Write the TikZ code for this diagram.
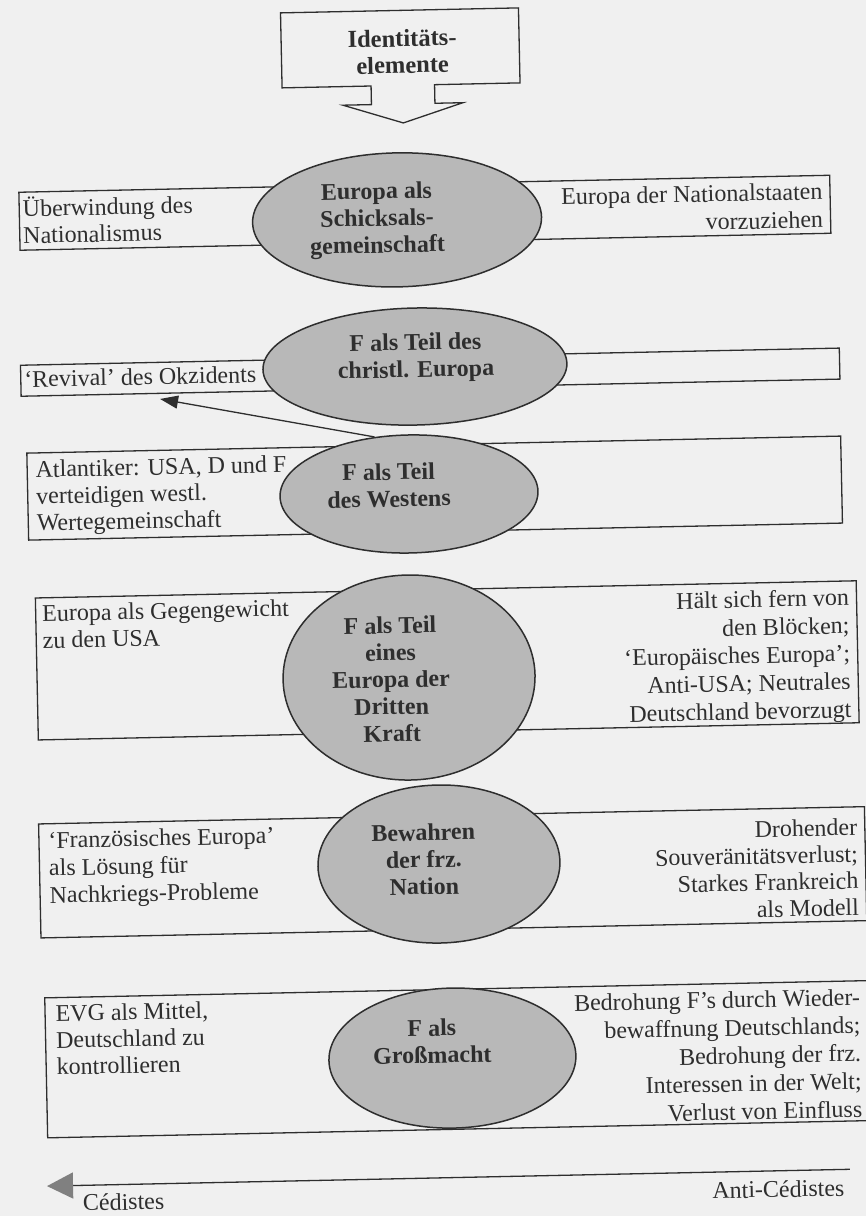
\documentclass[tikz,border=0pt]{standalone}
\usepackage{fontspec}
\setmainfont{Liberation Serif}
\usetikzlibrary{shapes.geometric,arrows.meta}
\definecolor{pagegray}{gray}{0.94}
\definecolor{ellgray}{gray}{0.72}
\definecolor{inkgray}{gray}{0.18}
\definecolor{tipgray}{gray}{0.5}
\newcommand{\boxfont}{\fontsize{24}{26.7}\selectfont}
\newcommand{\ellfont}{\fontsize{24}{27}\selectfont\bfseries}
\newcommand{\lstrut}{\rule{0pt}{22pt}}

\begin{document}
\begin{tikzpicture}[x=1pt,y=-1pt,
  rowbox/.style={draw=inkgray, line width=1.3pt, anchor=north west, inner sep=0pt},
  ell/.style={ellipse, draw=inkgray, line width=1.5pt, fill=ellgray, inner sep=0pt},
  etext/.style={font=\ellfont, text=inkgray, align=center, inner sep=0pt},
  ltext/.style={font=\boxfont, text=inkgray, align=left, anchor=north west, inner sep=0pt},
  rtext/.style={font=\boxfont, text=inkgray, align=right, anchor=north east, inner sep=0pt},
  conn/.style={draw=inkgray, line width=1.3pt}]
	\fill[pagegray] (0,0) rectangle (866,1216);
	\useasboundingbox (0,0) rectangle (866,1216);
	\begin{scope}[rotate around={1.2:(433,608)}, transform shape]
	\draw[conn, fill=pagegray] (293,9.8) -- (531,9.8) -- (531,84.8) -- (445.5,84.8) -- (445.5,103.4) -- (473.5,103.4) -- (413.5,122.4) -- (353.5,103.4) -- (382,103.4) -- (382,84.8) -- (293,84.8) -- cycle;
	\node[etext, font=\fontsize{24.5}{26.7}\selectfont\bfseries] (ident) at (414,51) {Identitäts-\\elemente};
	\node[rowbox, minimum width=811pt, minimum height=58pt] (r1) at (27,183) {};
	\node[rowbox, minimum width=819pt, minimum height=31pt] (r2) at (25,356) {};
	\node[rowbox, minimum width=814pt, minimum height=87pt] (r3) at (29.5,444) {};
	\node[rowbox, minimum width=821pt, minimum height=142pt] (r4) at (35,589) {};
	\node[rowbox, minimum width=826pt, minimum height=114pt] (r5) at (33.5,815) {};
	\node[rowbox, minimum width=823.6pt, minimum height=140pt] (r6) at (36,989) {};
	\node[ltext] (l1) at ([shift={(4,3)}]r1.north west) {\lstrut Überwindung des\\Nationalismus};
	\node[rtext, font=\fontsize{24}{28}\selectfont] (q1) at ([shift={(-8,2.5)}]r1.north east) {\lstrut Europa der Nationalstaaten\\vorzuziehen};
	\node[ltext] (l2) at ([shift={(4,0.6)}]r2.north west) {\lstrut ‘Revival’ des Okzidents};
	\node[ltext] (l3) at ([shift={(9,3)}]r3.north west) {\lstrut Atlantiker: USA, D und F\\verteidigen westl.\\Wertegemeinschaft};
	\node[ltext, font=\fontsize{24}{27}\selectfont] (l4) at ([shift={(7,2)}]r4.north west) {\lstrut Europa als Gegengewicht\\zu den USA};
	\node[rtext, font=\fontsize{24}{28}\selectfont] (q4) at ([shift={(-8,3)}]r4.north east) {\lstrut Hält sich fern von\\den Blöcken;\\‘Europäisches Europa’;\\Anti-USA; Neutrales\\Deutschland bevorzugt};
	\node[ltext, font=\fontsize{24}{27.5}\selectfont] (l5) at ([shift={(10,3)}]r5.north west) {\lstrut ‘Französisches Europa’\\als Lösung für\\Nachkriegs-Probleme};
	\node[rtext] (q5) at ([shift={(-8,7)}]r5.north east) {\lstrut Drohender\\Souveränitätsverlust;\\Starkes Frankreich\\als Modell};
	\node[ltext] (l6) at ([shift={(11,2.4)}]r6.north west) {\lstrut EVG als Mittel,\\Deutschland zu\\kontrollieren};
	\node[rtext, font=\fontsize{24}{28}\selectfont] (q6) at ([shift={(-9,3)}]r6.north east) {\lstrut Bedrohung F’s durch Wieder-\\bewaffnung Deutschlands;\\Bedrohung der frz.\\Interessen in der Welt;\\Verlust von Einfluss};
	\node[ell, minimum width=289pt, minimum height=134pt] (e1) at (405.2,219.2) {};
	\node[ell, minimum width=304pt, minimum height=117pt] (e2) at (420,366.2) {};
	\node[ell, minimum width=258pt, minimum height=118pt] (e3) at (411.4,493.5) {};
	\node[ell, minimum width=252pt, minimum height=205pt] (e4) at (407.6,677) {};
	\node[ell, minimum width=242pt, minimum height=158pt] (e5) at (433.6,864.1) {};
	\node[ell, minimum width=247pt, minimum height=140pt] (e6) at (443,1058.4) {};
	\node[etext] (t1) at ([xshift=-20pt]e1.center) {Europa als\\Schicksals-\\gemeinschaft};
	\node[etext] (t2) at ([xshift=1pt,yshift=8.5pt]e2.center) {F als Teil des\\christl. Europa};
	\node[etext] (t3) at ([xshift=-20pt,yshift=9pt]e3.center) {F als Teil\\des Westens};
	\node[etext] (t4) at ([xshift=-18pt,yshift=-1.5pt]e4.center) {F als Teil\\eines\\Europa der\\Dritten\\Kraft};
	\node[etext] (t5) at ([xshift=-15pt,yshift=5pt]e5.center) {Bewahren\\der frz.\\Nation};
	\node[etext] (t6) at ([xshift=-20pt,yshift=17pt]e6.center) {F als\\Großmacht};
	\coordinate (rv) at (164.5,393.3);
	\draw[conn, -{Triangle[length=18pt,width=13pt]}] (e3.120) -- (rv);
	\coordinate (anti) at (838,1178);
	\coordinate (ced) at (35,1178);
	\draw[conn, -{Triangle[length=26pt,width=26pt,color=tipgray]}] (anti) -- (ced);
	\node[font=\boxfont, text=inkgray, anchor=base west, inner sep=0pt] (cedl) at ([shift={(35.4,25.5)}]ced) {Cédistes};
	\node[font=\boxfont, text=inkgray, anchor=base east, inner sep=0pt] (antil) at ([shift={(-5.6,26.5)}]anti) {Anti-Cédistes};
	\end{scope}
\end{tikzpicture}
\end{document}
